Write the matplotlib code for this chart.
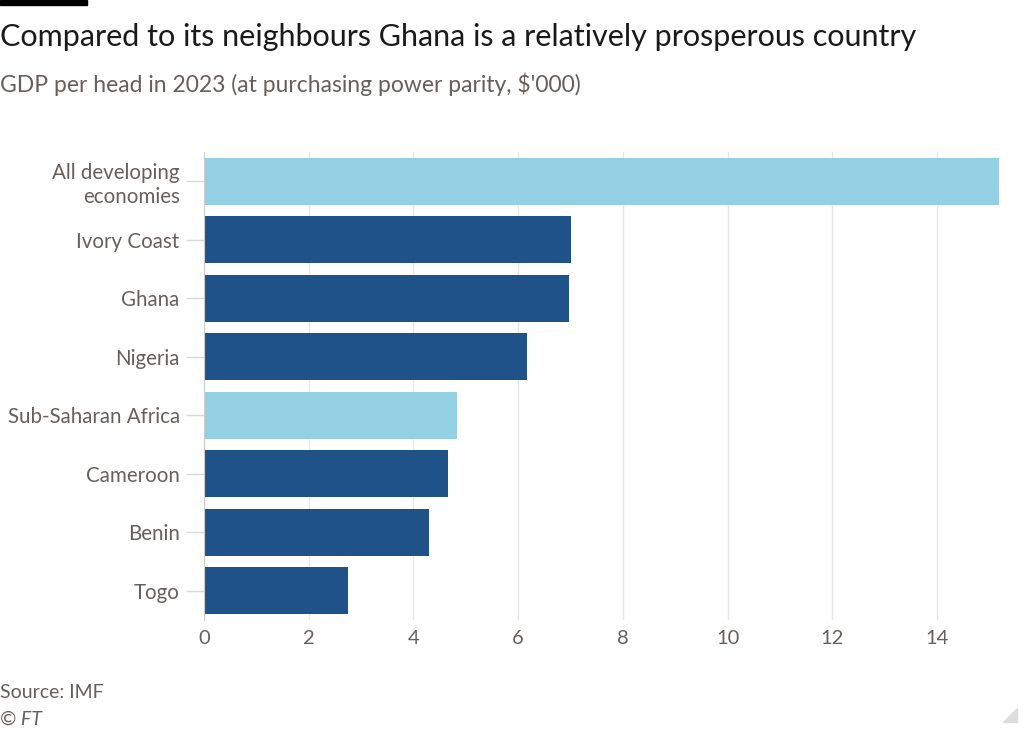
import matplotlib.pyplot as plt
from matplotlib.patches import Rectangle, Polygon

categories = ["All developing\neconomies", "Ivory Coast", "Ghana", "Nigeria",
              "Sub-Saharan Africa", "Cameroon", "Benin", "Togo"]
values = [15.18, 7.01, 6.97, 6.17, 4.83, 4.66, 4.30, 2.75]
highlight = [True, False, False, False, True, False, False, False]
xticks = [0, 2, 4, 6, 8, 10, 12, 14]

dark = "#1f5289"
light = "#93d0e4"
grey_text = "#66605c"

plt.rcParams['font.family'] = ['Lato', 'DejaVu Sans']

fig = plt.figure(figsize=(10.24, 7.31), dpi=100)
ax = fig.add_axes([204 / 1024, 1 - 620 / 731, (1000 - 204) / 1024, (620 - 152) / 731])

ypos = list(range(len(categories)))
colors = [light if h else dark for h in highlight]
ax.barh(ypos, values, height=0.8, color=colors, zorder=3)
ax.set_ylim(len(categories) - 0.5, -0.5)
ax.set_xlim(0, 15.2)

ax.set_xticks(xticks)
ax.set_xticklabels([str(t) for t in xticks], fontsize=14.5, color=grey_text)
ax.set_yticks(ypos)
ax.set_yticklabels(categories, fontsize=14.8, color=grey_text, linespacing=1.25)
ax.tick_params(axis='x', length=0, pad=7.5)
ax.tick_params(axis='y', length=13, color="#d9d9d9", width=1, pad=4.5)

ax.grid(axis='x', color="#e6e6e6", linewidth=1, zorder=0)
for s in ["top", "right", "bottom"]:
    ax.spines[s].set_visible(False)
ax.spines["left"].set_color("#cccccc")
ax.spines["left"].set_zorder(4)

fig.patches.append(Rectangle((0, 1 - 5 / 731), 87 / 1024, 5 / 731,
                             transform=fig.transFigure, color="black"))
fig.text(0.0, 1 - 37 / 731, "Compared to its neighbours Ghana is a relatively prosperous country",
         fontsize=22, color="#1a1a1a", va="center", ha="left")
fig.text(0.0, 1 - 84 / 731, "GDP per head in 2023 (at purchasing power parity, $'000)",
         fontsize=16.5, color=grey_text, va="center", ha="left")
fig.text(0.0, 1 - 693 / 731, "Source: IMF", fontsize=14, color=grey_text, va="center", ha="left")
fig.text(0.0, 1 - 719 / 731, "© FT", fontsize=14, color=grey_text, style="italic",
         va="center", ha="left")
fig.patches.append(Polygon([(1003 / 1024, 1 - 722 / 731), (1017 / 1024, 1 - 722 / 731),
                            (1017 / 1024, 1 - 708 / 731)], closed=True,
                           transform=fig.transFigure, color="#dddddd"))

fig.savefig("out.png", dpi=100, facecolor="white")
